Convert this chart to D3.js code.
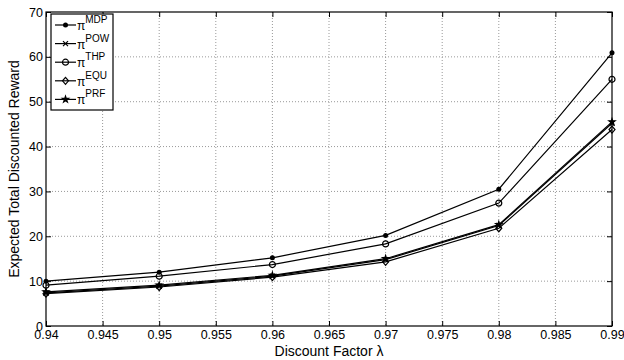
<!DOCTYPE html>
<html>
<head>
<meta charset="utf-8">
<script src="https://cdn.jsdelivr.net/npm/d3@7"></script>
<style>
  body { margin: 0; background: #fff; }
  text { font-family: "Liberation Sans", Arial, sans-serif; }
</style>
</head>
<body>
<svg id="chart" width="624" height="360"></svg>
<script>
const lambdas = [0.94, 0.95, 0.96, 0.97, 0.98, 0.99];
const mdp = [10.0, 12.0, 15.2, 20.2, 30.5, 60.9];
const pow = [7.4, 8.9, 11.1, 14.8, 22.4, 45.2];
const thp = [9.1, 11.1, 13.7, 18.3, 27.4, 55.0];
const equ = [7.2, 8.7, 10.9, 14.3, 21.8, 43.8];
const prf = [7.6, 9.1, 11.3, 15.0, 22.6, 45.5];
const xTicks = [0.94, 0.945, 0.95, 0.955, 0.96, 0.965, 0.97, 0.975, 0.98, 0.985, 0.99];
const yTicks = [0, 10, 20, 30, 40, 50, 60, 70];

const series = [
  { name: 'MDP', values: mdp, marker: 'dot' },
  { name: 'POW', values: pow, marker: 'x' },
  { name: 'THP', values: thp, marker: 'circle' },
  { name: 'EQU', values: equ, marker: 'diamond' },
  { name: 'PRF', values: prf, marker: 'star' }
];

const margin = { top: 12, right: 12, bottom: 34, left: 46 };
const width = 624, height = 360;
const chartWidth = width - margin.left - margin.right;
const chartHeight = height - margin.top - margin.bottom;

const svg = d3.select('#chart');
const g = svg.append('g').attr('transform', `translate(${margin.left},${margin.top})`);

const xScale = d3.scaleLinear().domain([0.94, 0.99]).range([0, chartWidth]);
const yScale = d3.scaleLinear().domain([0, 70]).range([chartHeight, 0]);

// dotted grid
g.selectAll('.vgrid')
  .data(xTicks.slice(1, -1))
  .enter()
  .append('line')
  .attr('x1', (d) => xScale(d))
  .attr('x2', (d) => xScale(d))
  .attr('y1', 0)
  .attr('y2', chartHeight)
  .attr('stroke', '#999')
  .attr('stroke-width', 1)
  .attr('stroke-dasharray', '1,2');

g.selectAll('.hgrid')
  .data(yTicks.slice(1, -1))
  .enter()
  .append('line')
  .attr('x1', 0)
  .attr('x2', chartWidth)
  .attr('y1', (d) => yScale(d))
  .attr('y2', (d) => yScale(d))
  .attr('stroke', '#999')
  .attr('stroke-width', 1)
  .attr('stroke-dasharray', '1,2');

// axes, ticks pointing inward
const xAxis = d3.axisBottom(xScale).tickValues(xTicks).tickSizeInner(-5).tickSizeOuter(0)
  .tickFormat((d) => d3.format('')(+d.toFixed(3)));
const yAxis = d3.axisLeft(yScale).tickValues(yTicks).tickSizeInner(-5).tickSizeOuter(0);
const xTop = d3.axisTop(xScale).tickValues(xTicks).tickSizeInner(-5).tickSizeOuter(0).tickFormat('');
const yRight = d3.axisRight(yScale).tickValues(yTicks).tickSizeInner(-5).tickSizeOuter(0).tickFormat('');

function styleAxis(sel) {
  sel.select('.domain').remove();
  sel.selectAll('text').attr('font-size', 12.5).attr('fill', '#000');
  sel.selectAll('line').attr('stroke', '#000');
}

g.append('g').attr('transform', `translate(0,${chartHeight})`).call(xAxis).call(styleAxis)
  .selectAll('text').attr('y', 13).attr('dy', 0);
g.append('g').call(yAxis).call(styleAxis).selectAll('text').attr('x', -3);
g.append('g').call(xTop).call(styleAxis);
g.append('g').attr('transform', `translate(${chartWidth},0)`).call(yRight).call(styleAxis);

// lines
const line = d3.line()
  .x((d, i) => xScale(lambdas[i]))
  .y((d) => yScale(d));

series.forEach((s) => {
  g.append('path')
    .datum(s.values)
    .attr('fill', 'none')
    .attr('stroke', '#000')
    .attr('stroke-width', 1.2)
    .attr('d', line);
});

function drawMarker(sel, type) {
  if (type === 'dot') {
    sel.append('circle').attr('r', 2.5).attr('fill', '#000');
  } else if (type === 'x') {
    sel.append('path').attr('d', 'M-2.5,-2.5L2.5,2.5M-2.5,2.5L2.5,-2.5')
      .attr('stroke', '#000').attr('stroke-width', 1.2);
  } else if (type === 'circle') {
    sel.append('circle').attr('r', 3).attr('fill', 'none')
      .attr('stroke', '#000').attr('stroke-width', 1.2);
  } else if (type === 'diamond') {
    sel.append('path').attr('d', 'M0,-3.5L3,0L0,3.5L-3,0Z').attr('fill', 'none')
      .attr('stroke', '#000').attr('stroke-width', 1.2);
  } else if (type === 'star') {
    sel.append('path').attr('d', d3.symbol(d3.symbolStar, 30)()).attr('fill', '#000');
  }
}

series.forEach((s) => {
  s.values.forEach((v, i) => {
    const m = g.append('g').attr('transform', `translate(${xScale(lambdas[i])},${yScale(v)})`);
    drawMarker(m, s.marker);
  });
});

// frame
g.append('rect')
  .attr('width', chartWidth)
  .attr('height', chartHeight)
  .attr('fill', 'none')
  .attr('stroke', '#000')
  .attr('stroke-width', 1.2);

// legend
const legend = g.append('g').attr('transform', 'translate(5,2)');
legend.append('rect')
  .attr('width', 62)
  .attr('height', 96)
  .attr('fill', '#fff')
  .attr('stroke', '#000')
  .attr('stroke-width', 1.2);

series.forEach((s, i) => {
  const yy = 11 + i * 18.6;
  const row = legend.append('g').attr('transform', `translate(0,${yy})`);
  row.append('line')
    .attr('x1', 4).attr('x2', 25)
    .attr('y1', 0).attr('y2', 0)
    .attr('stroke', '#000').attr('stroke-width', 1.2);
  drawMarker(row.append('g').attr('transform', 'translate(14.5,0)'), s.marker);
  const t = row.append('text').attr('x', 26).attr('y', 5).attr('font-size', 12);
  t.append('tspan').text('π');
  t.append('tspan').attr('dy', -7).attr('font-size', 10).text(s.name);
});

// axis labels
svg.append('text')
  .attr('x', margin.left + chartWidth / 2)
  .attr('y', 356)
  .attr('text-anchor', 'middle')
  .attr('font-size', 14)
  .text('Discount Factor λ');

svg.append('text')
  .attr('transform', `translate(19,${margin.top + chartHeight / 2}) rotate(-90)`)
  .attr('text-anchor', 'middle')
  .attr('font-size', 14)
  .text('Expected Total Discounted Reward');
</script>
</body>
</html>
